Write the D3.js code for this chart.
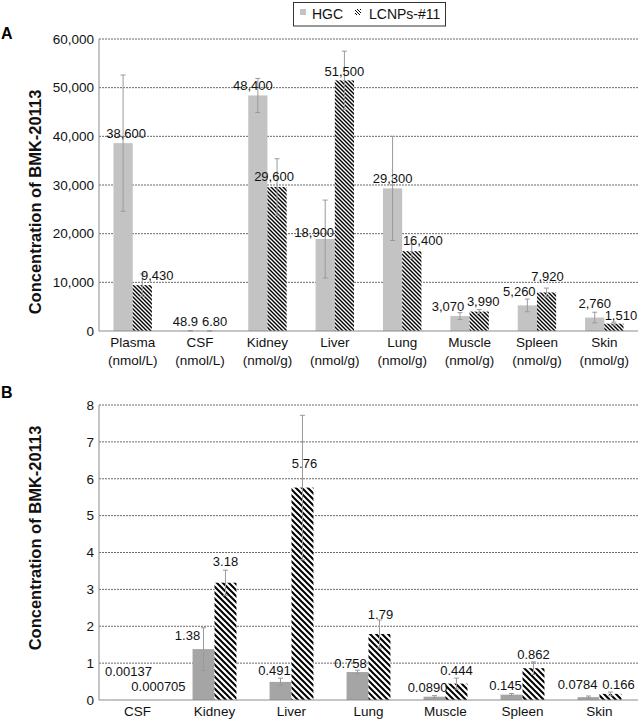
<!DOCTYPE html>
<html>
<head>
<meta charset="utf-8">
<script src="https://cdn.jsdelivr.net/npm/d3@7"></script>
<style>
  body { margin: 0; background: #fff; }
  svg { font-family: "Liberation Sans", Arial, sans-serif; }
</style>
</head>
<body>
<div id="chart"></div>
<script>
// ---- data, panel A ----
var catsA   = ["Plasma", "CSF", "Kidney", "Liver", "Lung", "Muscle", "Spleen", "Skin"];
var unitsA  = ["(nmol/L)", "(nmol/L)", "(nmol/g)", "(nmol/g)", "(nmol/g)", "(nmol/g)", "(nmol/g)", "(nmol/g)"];
var hgcA    = [38600, 48.9, 48400, 18900, 29300, 3070, 5260, 2760];
var lcnpA   = [9430, 6.80, 29600, 51500, 16400, 3990, 7920, 1510];
var hgcErrA = [14000, 20, 3500, 8000, 10700, 700, 1300, 1100];
var lcnpErrA= [2300, 3, 5800, 6000, 1500, 400, 900, 300];
var hgcLabA = ["38,600", "48.9", "48,400", "18,900", "29,300", "3,070", "5,260", "2,760"];
var lcnpLabA= ["9,430", "6.80", "29,600", "51,500", "16,400", "3,990", "7,920", "1,510"];
var ticksA  = [0, 10000, 20000, 30000, 40000, 50000, 60000];

// ---- data, panel B ----
var catsB   = ["CSF", "Kidney", "Liver", "Lung", "Muscle", "Spleen", "Skin"];
var hgcB    = [0.00137, 1.38, 0.491, 0.758, 0.0890, 0.145, 0.0784];
var lcnpB   = [0.000705, 3.18, 5.76, 1.79, 0.444, 0.862, 0.166];
var hgcErrB = [0, 0.58, 0.1, 0.05, 0.03, 0.03, 0.03];
var lcnpErrB= [0, 0.34, 1.96, 0.38, 0.15, 0.17, 0.05];
var hgcLabB = ["0.00137", "1.38", "0.491", "0.758", "0.0890", "0.145", "0.0784"];
var lcnpLabB= ["0.000705", "3.18", "5.76", "1.79", "0.444", "0.862", "0.166"];
var ticksB  = [0, 1, 2, 3, 4, 5, 6, 7, 8];

var seriesNames = ["HGC", "LCNPs-#11"];

// label nudges (px) so the labels sit like in the original
var nudgeA = {
    hgcDx: [3, -5, -5, -11, 0, -12, -8, 0],   hgcDy: [-5, -5, -5, -2, -5, -5, -9, -10],
    lcnpDx:[15, 5, -3, 0, 11, 4, 1, 7],       lcnpDy:[-5, -5, -6, -4, -6, -6, -11, -4]
};
var nudgeB = {
    hgcDx: [2, -16, -6, -7, -7, -6, -11],     hgcDy: [-24, -9, -7, -4, -5, -5, -8],
    lcnpDx:[10, 0, 2, 1, 0, 0, 8],            lcnpDy:[-9, -17, -20, -15, -9, -9, -5]
};

var svg = d3.select("#chart").append("svg").attr("width", 640).attr("height", 719);
var defs = svg.append("defs");

function addHatch(id, size, sw) {
    var p = defs.append("pattern").attr("id", id).attr("patternUnits", "userSpaceOnUse")
                .attr("width", size).attr("height", size);
    p.append("rect").attr("width", size).attr("height", size).attr("fill", "#fff");
    p.append("path").attr("d", "M0,0L"+size+","+size+"M"+(-size/2)+","+(size/2)+"L"+(size/2)+","+(size*1.5)+"M"+(size/2)+","+(-size/2)+"L"+(size*1.5)+","+(size/2))
        .attr("stroke", "#000").attr("stroke-width", sw);
}
addHatch("hatchA", 4, 1.4);
addHatch("hatchB", 6, 2);
addHatch("hatchL", 3, 1);

function drawPanel(o) {

    var x0 = d3.scaleBand().domain(o.cats).range([o.left, o.right]).paddingInner(0.43).paddingOuter(0.215);
    var x1 = d3.scaleBand().domain(["hgc", "lcnp"]).range([0, x0.bandwidth()]);
    var y  = d3.scaleLinear().domain([0, o.max]).range([o.bottom, o.top]);

    var g = svg.append("g");

    // grid
    g.append("g").selectAll("line").data(o.ticks.filter(function(t){return t > 0;})).enter().append("line")
        .attr("x1", o.left).attr("x2", o.right)
        .attr("y1", function(d){return y(d);}).attr("y2", function(d){return y(d);})
        .attr("stroke", "#6a6a6a").attr("stroke-width", 1).attr("stroke-dasharray", "2,1");

    // y axis labels
    var yAxis = d3.axisLeft(y).tickValues(o.ticks).tickSize(0).tickPadding(5).tickFormat(o.fmt);
    var ya = g.append("g").attr("transform", "translate("+o.left+",0)").call(yAxis);
    ya.select(".domain").remove();
    ya.selectAll("text").attr("font-size", "13.5px").attr("fill", "#111").attr("font-family", "Liberation Sans, Arial, sans-serif");

    // bars
    var rows = o.cats.map(function(c, i) {
        return [
            {cat: c, key: "hgc",  v: o.hgc[i],  e: o.hgcErr[i],  lab: o.hgcLab[i],  dx: o.nudge.hgcDx[i],  dy: o.nudge.hgcDy[i]},
            {cat: c, key: "lcnp", v: o.lcnp[i], e: o.lcnpErr[i], lab: o.lcnpLab[i], dx: o.nudge.lcnpDx[i], dy: o.nudge.lcnpDy[i]}
        ];
    });
    var flat = [].concat.apply([], rows);

    g.append("g").selectAll("rect").data(flat).enter().append("rect")
        .attr("x", function(d){return x0(d.cat) + x1(d.key);})
        .attr("y", function(d){return y(d.v);})
        .attr("width", x1.bandwidth())
        .attr("height", function(d){return y(0) - y(d.v);})
        .attr("fill", function(d){return d.key === "hgc" ? o.hgcColor : "url(#"+o.hatch+")";});

    // axis lines
    g.append("line").attr("x1", o.left).attr("x2", o.right).attr("y1", y(0)).attr("y2", y(0)).attr("stroke", "#8c8c8c");
    g.append("line").attr("x1", o.left).attr("x2", o.left).attr("y1", y(0)).attr("y2", o.top).attr("stroke", "#8c8c8c");

    // error bars
    var eb = g.append("g").selectAll("g").data(flat.filter(function(d){return d.e > 0;})).enter().append("g")
        .attr("stroke", "#9a9a9a").attr("stroke-width", 1);
    function cx(d) { return x0(d.cat) + x1(d.key) + x1.bandwidth()/2; }
    eb.append("line").attr("x1", cx).attr("x2", cx)
        .attr("y1", function(d){return y(Math.max(0, d.v - d.e));}).attr("y2", function(d){return y(d.v + d.e);});
    eb.append("line").attr("x1", function(d){return cx(d)-2.5;}).attr("x2", function(d){return cx(d)+2.5;})
        .attr("y1", function(d){return y(d.v + d.e);}).attr("y2", function(d){return y(d.v + d.e);});
    eb.append("line").attr("x1", function(d){return cx(d)-2.5;}).attr("x2", function(d){return cx(d)+2.5;})
        .attr("y1", function(d){return y(Math.max(0, d.v - d.e));}).attr("y2", function(d){return y(Math.max(0, d.v - d.e));});

    // value labels
    g.append("g").selectAll("text").data(flat).enter().append("text")
        .attr("x", function(d){return cx(d) + d.dx;})
        .attr("y", function(d){return y(d.v) + d.dy;})
        .attr("text-anchor", "middle").attr("font-size", "13px").attr("fill", "#111")
        .text(function(d){return d.lab;});

    // category labels
    var cl = g.append("g").selectAll("text").data(o.cats).enter().append("text")
        .attr("x", function(d){return x0(d) + x0.bandwidth()/2;})
        .attr("y", o.bottom + 16)
        .attr("text-anchor", "middle").attr("font-size", "13.5px").attr("fill", "#111");
    cl.append("tspan").text(function(d){return d;});
    if (o.units) {
        cl.append("tspan").attr("x", function(d){return x0(d) + x0.bandwidth()/2;}).attr("dy", 18)
          .text(function(d, i){return o.units[i];});
    }

    // y title
    g.append("text").attr("transform", "translate(41,"+o.titleY+") rotate(-90)")
        .attr("text-anchor", "middle").attr("font-size", "16.5px").attr("font-weight", "bold").attr("fill", "#111")
        .text("Concentration of BMK-20113");

    // panel letter
    g.append("text").attr("x", 1).attr("y", o.letterY).attr("font-size", "16px").attr("font-weight", "bold")
        .attr("fill", "#000").text(o.letter);
}

drawPanel({
    cats: catsA, units: unitsA, hgc: hgcA, lcnp: lcnpA, hgcErr: hgcErrA, lcnpErr: lcnpErrA,
    hgcLab: hgcLabA, lcnpLab: lcnpLabA, ticks: ticksA, max: 60000, fmt: d3.format(","),
    left: 99, right: 638, top: 39, bottom: 331, hgcColor: "#c3c3c3", hatch: "hatchA",
    nudge: nudgeA, titleY: 202, letter: "A", letterY: 39
});

drawPanel({
    cats: catsB, units: null, hgc: hgcB, lcnp: lcnpB, hgcErr: hgcErrB, lcnpErr: lcnpErrB,
    hgcLab: hgcLabB, lcnpLab: lcnpLabB, ticks: ticksB, max: 8, fmt: d3.format("d"),
    left: 99, right: 638, top: 405, bottom: 700, hgcColor: "#a5a5a5", hatch: "hatchB",
    nudge: nudgeB, titleY: 538, letter: "B", letterY: 398
});

// legend
var leg = svg.append("g");
leg.append("rect").attr("x", 293.5).attr("y", 2.5).attr("width", 152).attr("height", 23.5)
    .attr("fill", "#fff").attr("stroke", "#333");
leg.append("rect").attr("x", 300).attr("y", 9).attr("width", 6).attr("height", 6).attr("fill", "#c3c3c3");
leg.append("text").attr("x", 312).attr("y", 19).attr("font-size", "14px").attr("fill", "#111").text(seriesNames[0]);
leg.append("rect").attr("x", 355).attr("y", 9).attr("width", 6).attr("height", 6).attr("fill", "url(#hatchL)");
leg.append("text").attr("x", 369).attr("y", 19).attr("font-size", "14px").attr("fill", "#111").text(seriesNames[1]);
</script>
</body>
</html>
